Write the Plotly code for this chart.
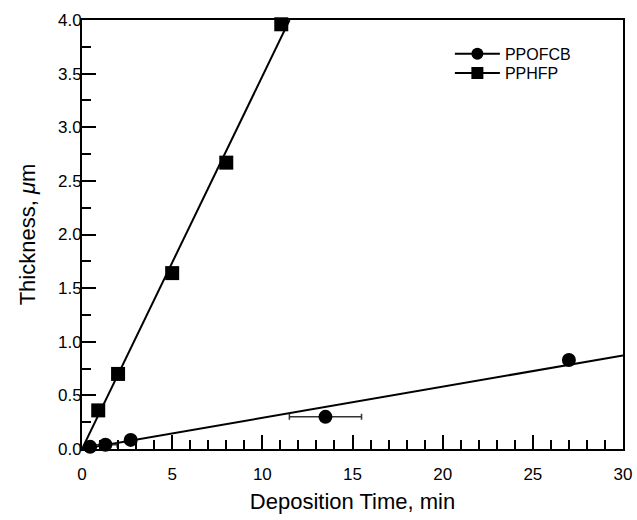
import numpy as np
import plotly.graph_objects as go

# PPOFCB (circles)
ofcb_time = [0.45, 1.3, 2.7, 13.5, 27.0]
ofcb_thick = [0.02, 0.04, 0.085, 0.30, 0.83]
ofcb_xerr = [0.0, 0.65, 0.0, 2.0, 0.0]

# PPHFP (squares)
hfp_time = [0.9, 2.0, 5.0, 8.0, 11.05]
hfp_thick = [0.36, 0.70, 1.64, 2.67, 3.96]

x_ticks = [0, 5, 10, 15, 20, 25, 30]
y_ticks = [0.0, 0.5, 1.0, 1.5, 2.0, 2.5, 3.0, 3.5, 4.0]
y_labels = [f"{v:.1f}" for v in y_ticks]

# least squares lines through origin
def slope0(x, y):
    x = np.array(x); y = np.array(y)
    return float((x * y).sum() / (x * x).sum())

s_ofcb = slope0(ofcb_time, ofcb_thick)
s_hfp = slope0(hfp_time, hfp_thick)
fit_ofcb_x = [0, 30]
fit_hfp_x = [0, 4.0 / s_hfp]

FONT = "Liberation Sans, Arial, sans-serif"

fig = go.Figure()
fig.add_trace(go.Scatter(x=fit_ofcb_x, y=[s_ofcb * v for v in fit_ofcb_x], mode="lines",
                         line=dict(color="black", width=2), showlegend=False))
fig.add_trace(go.Scatter(x=fit_hfp_x, y=[s_hfp * v for v in fit_hfp_x], mode="lines",
                         line=dict(color="black", width=2), showlegend=False))
fig.add_trace(go.Scatter(x=ofcb_time, y=ofcb_thick, mode="markers",
                         marker=dict(symbol="circle", size=14, color="black"),
                         error_x=dict(type="data", array=ofcb_xerr, color="#333", thickness=1.5, width=3),
                         cliponaxis=False, showlegend=False))
fig.add_trace(go.Scatter(x=hfp_time, y=hfp_thick, mode="markers",
                         marker=dict(symbol="square", size=14, color="black"),
                         cliponaxis=False, showlegend=False))
# legend entries
fig.add_trace(go.Scatter(x=[None], y=[None], mode="lines+markers", name="PPOFCB",
                         line=dict(color="black", width=2), legend="legend",
                         marker=dict(symbol="circle", size=12, color="black")))
fig.add_trace(go.Scatter(x=[None], y=[None], mode="lines+markers", name="PPHFP",
                         line=dict(color="black", width=2), legend="legend2",
                         marker=dict(symbol="square", size=12, color="black")))

axis_common = dict(showgrid=False, zeroline=False, showline=True, linecolor="black",
                   linewidth=2, mirror=True, ticks="inside", tickcolor="black",
                   tickwidth=1.5, ticklen=14, tickfont=dict(size=17, color="black", family=FONT))

fig.update_xaxes(range=[0, 30], tickvals=x_ticks, ticktext=[str(v) for v in x_ticks],
                 minor=dict(dtick=1, ticks="inside", ticklen=9, tickcolor="black", tickwidth=1.5),
                 ticklabelstandoff=9, automargin=False,
                 title=dict(text="Deposition Time, min", font=dict(size=22, color="black", family=FONT),
                            standoff=10),
                 **axis_common)
fig.update_yaxes(range=[0, 4], tickvals=y_ticks, ticktext=y_labels,
                 minor=dict(dtick=0.25, ticks="inside", ticklen=9, tickcolor="black", tickwidth=1.5),
                 automargin=False, ticklabelstandoff=-5,
                 title=dict(text="Thickness, <i>μ</i>m", font=dict(size=22, color="black", family=FONT),
                            standoff=16),
                 **axis_common)

leg_common = dict(xanchor="left", yanchor="middle", bgcolor="rgba(0,0,0,0)",
                  font=dict(size=16, color="black", family=FONT), itemwidth=45,
                  borderwidth=0)
fig.update_layout(
    width=637, height=520,
    margin=dict(l=82, r=14, t=20, b=71),
    paper_bgcolor="white", plot_bgcolor="white",
    font=dict(family=FONT, color="black"),
    legend=dict(x=0.68, y=0.921, **leg_common),
    legend2=dict(x=0.68, y=0.876, **leg_common),
)

fig.write_html("out.html")
